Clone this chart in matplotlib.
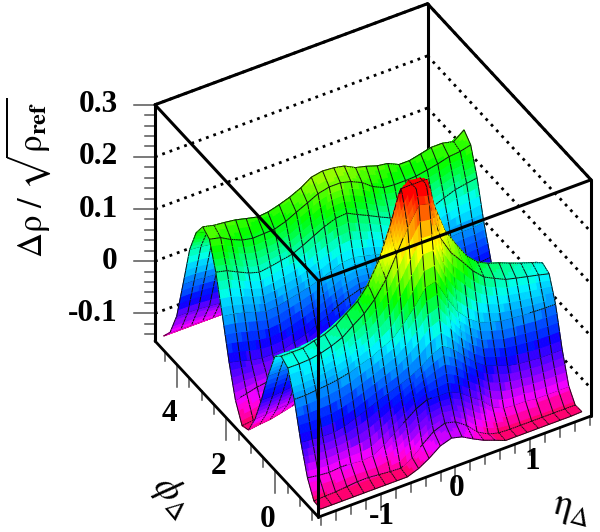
"""Pair correlation surface on eta/phi, drawn like a ROOT surf1 plot."""
import numpy as np
import matplotlib
matplotlib.use("Agg")
import matplotlib.pyplot as plt
from matplotlib.colors import LinearSegmentedColormap, BoundaryNorm
from mpl_toolkits.mplot3d import proj3d
from mpl_toolkits.mplot3d.art3d import Poly3DCollection

plt.rcParams["mathtext.fontset"] = "stix"
plt.rcParams["font.family"] = ["Liberation Serif", "DejaVu Serif"]

eta_bins = [-1.76, -1.61, -1.47, -1.32, -1.18, -1.03, -0.89, -0.74, -0.60, -0.45, -0.31, -0.16, -0.01,
            0.13, 0.28, 0.42, 0.57, 0.71, 0.86, 1.00, 1.15, 1.29, 1.44, 1.59, 1.73]
phi_bins = [-1.62, -1.35, -1.09, -0.82, -0.55, -0.29, -0.02, 0.24, 0.51, 0.78, 1.04, 1.31, 1.57,
            1.84, 2.10, 2.37, 2.64, 2.90, 3.17, 3.44, 3.70, 3.97, 4.23, 4.50, 4.76]

# one row per phi bin, one column per eta bin
rho = [
    [-.148,-.148,-.148,-.148,-.148,-.148,-.148,-.148,-.148,-.140,-.128,-.112,-.105,-.110,-.122,-.132,-.140,-.148,-.148,-.148,-.148,-.148,-.148,-.148,-.147],
    [-.146,-.145,-.144,-.142,-.140,-.140,-.142,-.144,-.145,-.132,-.115,-.098,-.090,-.095,-.110,-.130,-.142,-.147,-.148,-.148,-.148,-.148,-.148,-.148,-.148],
    [-.115,-.118,-.120,-.118,-.118,-.120,-.118,-.105,-.090,-.075,-.060,-.050,-.050,-.050,-.060,-.075,-.090,-.110,-.120,-.122,-.122,-.125,-.125,-.125,-.125],
    [-.060,-.062,-.064,-.064,-.060,-.052,-.044,-.035,-.028,-.020,-.012,.000,.015,.025,.010,-.010,-.030,-.044,-.052,-.060,-.064,-.066,-.068,-.068,-.068],
    [.008,.008,.010,.012,.015,.020,.028,.035,.045,.055,.075,.100,.130,.135,.095,.062,.040,.025,.018,.012,.010,.008,.006,.005,.005],
    [.055,.055,.056,.060,.066,.075,.090,.105,.125,.155,.195,.240,.275,.270,.195,.160,.135,.110,.090,.080,.070,.065,.060,.055,.050],
    [.064,.064,.064,.070,.075,.085,.100,.115,.140,.180,.235,.305,.345,.335,.245,.190,.155,.125,.105,.095,.088,.080,.072,.065,.057],
    [.050,.050,.050,.052,.056,.065,.075,.088,.105,.130,.165,.215,.270,.265,.180,.145,.125,.105,.090,.080,.070,.062,.056,.050,.045],
    [.000,.000,.000,.002,.006,.012,.020,.030,.045,.065,.085,.105,.130,.135,.105,.080,.060,.045,.032,.024,.016,.010,.004,.000,-.002],
    [-.060,-.060,-.058,-.056,-.052,-.048,-.040,-.032,-.020,-.008,.005,.020,.035,.035,.020,.005,-.010,-.020,-.030,-.038,-.044,-.050,-.054,-.056,-.058],
    [-.110,-.108,-.106,-.104,-.100,-.095,-.088,-.080,-.070,-.060,-.050,-.040,-.030,-.030,-.040,-.050,-.060,-.070,-.078,-.085,-.092,-.098,-.102,-.105,-.108],
    [-.145,-.142,-.140,-.135,-.130,-.125,-.118,-.110,-.100,-.092,-.084,-.076,-.070,-.070,-.076,-.084,-.092,-.100,-.108,-.115,-.122,-.128,-.133,-.137,-.140],
    [-.150,-.148,-.145,-.140,-.135,-.128,-.120,-.112,-.104,-.096,-.088,-.082,-.078,-.078,-.082,-.088,-.096,-.104,-.112,-.120,-.128,-.134,-.140,-.144,-.146],
    [-.115,-.110,-.105,-.102,-.100,-.098,-.095,-.090,-.085,-.078,-.070,-.062,-.055,-.055,-.062,-.070,-.078,-.085,-.090,-.095,-.098,-.100,-.100,-.100,-.098],
    [-.055,-.060,-.066,-.070,-.070,-.068,-.062,-.055,-.045,-.035,-.025,-.015,-.008,-.008,-.015,-.025,-.032,-.040,-.045,-.050,-.050,-.048,-.045,-.042,-.040],
    [.020,.017,.012,.005,-.002,.000,.005,.010,.015,.022,.030,.038,.040,.035,.030,.022,.012,.005,.000,.000,.005,.010,.012,.012,.015],
    [.090,.085,.075,.065,.059,.062,.066,.070,.079,.090,.100,.108,.110,.100,.090,.080,.070,.062,.058,.058,.062,.070,.078,.082,.085],
    [.140,.135,.124,.115,.111,.112,.113,.120,.130,.140,.150,.155,.155,.150,.140,.125,.115,.113,.113,.114,.118,.122,.128,.130,.135],
    [.150,.145,.143,.140,.135,.130,.132,.138,.145,.155,.168,.172,.170,.166,.155,.150,.143,.140,.130,.130,.135,.140,.140,.135,.150],
    [.125,.120,.118,.115,.110,.105,.105,.110,.118,.125,.135,.142,.140,.135,.125,.120,.115,.110,.105,.105,.110,.115,.115,.115,.120],
    [.080,.078,.075,.072,.068,.065,.066,.070,.075,.082,.090,.095,.095,.090,.082,.075,.070,.066,.064,.064,.066,.070,.072,.072,.075],
    [.000,.000,-.002,-.004,-.006,-.008,-.006,-.002,.002,.008,.014,.018,.018,.014,.008,.002,-.002,-.006,-.008,-.008,-.006,-.004,-.002,-.002,.000],
    [-.075,-.075,-.076,-.078,-.080,-.080,-.078,-.075,-.070,-.066,-.062,-.060,-.060,-.062,-.066,-.070,-.074,-.078,-.080,-.080,-.078,-.078,-.076,-.076,-.075],
    [-.120,-.120,-.120,-.120,-.121,-.121,-.120,-.120,-.118,-.116,-.115,-.114,-.114,-.115,-.116,-.118,-.120,-.120,-.121,-.121,-.120,-.120,-.120,-.120,-.120],
    [-.140,-.140,-.140,-.140,-.140,-.140,-.140,-.140,-.139,-.138,-.137,-.136,-.136,-.137,-.138,-.139,-.140,-.140,-.140,-.140,-.140,-.140,-.140,-.140,-.140],
]

z_major = [-0.1, 0, 0.1, 0.2, 0.3]
z_labels = ["-0.1", "0", "0.1", "0.2", "0.3"]
z_minor = [-0.14, -0.12, -0.08, -0.06, -0.04, -0.02, 0.02, 0.04, 0.06, 0.08, 0.12, 0.14, 0.16, 0.18,
           0.22, 0.24, 0.26, 0.28]
eta_major = [-1, 0, 1]
eta_minor = [-1.8, -1.6, -1.4, -1.2, -0.8, -0.6, -0.4, -0.2, 0.2, 0.4, 0.6, 0.8, 1.2, 1.4, 1.6, 1.8]
phi_major = [0, 2, 4]
phi_minor = [-1.5, -1, -0.5, 0.5, 1, 1.5, 2.5, 3, 3.5, 4.5]

XMIN, XMAX = -1.83, 1.81
YMIN, YMAX = -1.75, 4.90
ZMIN, ZMAX = -0.153, 0.30
ELEV, AZIM = 39.2, -120.4
BOX = (313, 320, 302)
SUB = 5
INK = "#000000"
TICK = "#555555"

rainbow = LinearSegmentedColormap.from_list("root_rainbow", [
    (0.000, "#ff0070"), (0.062, "#ff00ff"), (0.139, "#8000ff"), (0.227, "#0000ff"),
    (0.338, "#0082ff"), (0.448, "#00ffff"), (0.602, "#00ff00"), (0.779, "#ffff00"),
    (0.890, "#ff9000"), (1.000, "#ff0000")])
bands = BoundaryNorm(np.linspace(ZMIN, ZMAX, 43), 256)

fig = plt.figure(figsize=(6.0, 5.32), dpi=100)
ax = fig.add_axes([0.05, 0.02, 0.9 * 5.32 / 6.0, 0.9], projection="3d", proj_type="ortho")
ax.computed_zorder = False
ax.view_init(elev=ELEV, azim=AZIM)
ax.set_box_aspect(BOX)
ax.set_xlim(XMIN, XMAX)
ax.set_ylim(YMIN, YMAX)
ax.set_zlim(ZMIN, ZMAX)
ax.set_axis_off()


def corners_px():
    fig.canvas.draw()
    xs = [XMIN, XMAX, XMIN]
    ys = [YMAX, YMIN, YMIN]
    zs = [ZMIN, ZMIN, ZMIN]
    px, py, _ = proj3d.proj_transform(np.array(xs), np.array(ys), np.array(zs), ax.get_proj())
    return ax.transData.transform(np.column_stack([px, py]))


# scale and shift the axes so the box lands where it sits in the picture
left_px = np.array([155.0, 532 - 341.0])
right_px = np.array([591.0, 532 - 415.0])
pts = corners_px()
ratio = (right_px[0] - left_px[0]) / (pts[1][0] - pts[0][0])
pos = ax.get_position()
side_in = pos.width * 6.0 * ratio
ax.set_position([pos.x0, pos.y0, side_in / 6.0, side_in / 5.32])
pts = corners_px()
shift = left_px - pts[0]
pos = ax.get_position()
ax.set_position([pos.x0 + shift[0] / 600, pos.y0 + shift[1] / 532, pos.width, pos.height])
ax.apply_aspect()

# cells are split only so the colour bands can follow the height
Z = np.array(rho)
u = np.linspace(0, 24, 24 * SUB + 1)
iu = np.minimum(u.astype(int), 23)
fu = u - iu
fx = np.interp(u, np.arange(25), eta_bins)
fy = np.interp(u, np.arange(25), phi_bins)
FX, FY = np.meshgrid(fx, fy)
wu, wv = np.meshgrid(fu, fu)
IU, IV = np.meshgrid(iu, iu)
FZ = (Z[IV, IU] * (1 - wu) * (1 - wv) + Z[IV, IU + 1] * wu * (1 - wv)
      + Z[IV + 1, IU] * (1 - wu) * wv + Z[IV + 1, IU + 1] * wu * wv)
FZ = np.clip(FZ, ZMIN, ZMAX)

quads = np.stack([
    np.stack([FX[:-1, :-1], FY[:-1, :-1], FZ[:-1, :-1]], -1),
    np.stack([FX[:-1, 1:], FY[:-1, 1:], FZ[:-1, 1:]], -1),
    np.stack([FX[1:, 1:], FY[1:, 1:], FZ[1:, 1:]], -1),
    np.stack([FX[1:, :-1], FY[1:, :-1], FZ[1:, :-1]], -1)], axis=2).reshape(-1, 4, 3)
quad_colors = rainbow(bands(quads[:, :, 2].mean(axis=1)))

# mesh lines go into the same collection so they are depth sorted with the faces
a = np.radians(AZIM)
e = np.radians(ELEV)
toward_cam = np.array([np.cos(e) * np.cos(a) * (XMAX - XMIN) / BOX[0],
                       np.cos(e) * np.sin(a) * (YMAX - YMIN) / BOX[1],
                       np.sin(e) * (ZMAX - ZMIN) / BOX[2]]) * 1.5
P = np.stack([FX, FY, FZ], -1) + toward_cam
segs = []
for k in range(0, P.shape[0], SUB):
    for m in range(P.shape[1] - 1):
        segs.append([P[k, m], P[k, m + 1], P[k, m + 1], P[k, m]])
        segs.append([P[m, k], P[m + 1, k], P[m + 1, k], P[m, k]])
segs = np.array(segs)
line_colors = np.tile(matplotlib.colors.to_rgba("#101010"), (len(segs), 1))

surface = Poly3DCollection(np.concatenate([quads, segs]),
                           facecolors=np.concatenate([quad_colors, line_colors]),
                           edgecolors=np.concatenate([quad_colors, line_colors]),
                           linewidths=0.7, zorder=2)
ax.add_collection3d(surface, autolim=False)


def edge(p, q, lw=2.2, zorder=3):
    ax.plot([p[0], q[0]], [p[1], q[1]], [p[2], q[2]], color=INK, lw=lw, zorder=zorder,
            solid_capstyle="round", clip_on=False)


# back walls
for z in z_major:
    ax.plot([XMIN, XMAX], [YMAX, YMAX], [z, z], color=INK, lw=2.0, ls=(0, (1, 1.8)), zorder=1)
    ax.plot([XMAX, XMAX], [YMAX, YMIN], [z, z], color=INK, lw=2.0, ls=(0, (1, 1.8)), zorder=1)
edge((XMIN, YMAX, ZMAX), (XMAX, YMAX, ZMAX), zorder=1)
edge((XMAX, YMAX, ZMAX), (XMAX, YMIN, ZMAX), zorder=1)
edge((XMAX, YMAX, ZMIN), (XMAX, YMAX, ZMAX), zorder=1)

# front of the box, over the surface
edge((XMIN, YMIN, ZMIN), (XMIN, YMIN, ZMAX))
edge((XMIN, YMAX, ZMAX), (XMIN, YMIN, ZMAX))
edge((XMIN, YMIN, ZMAX), (XMAX, YMIN, ZMAX))
edge((XMIN, YMAX, ZMIN), (XMIN, YMAX, ZMAX))
edge((XMAX, YMIN, ZMIN), (XMAX, YMIN, ZMAX))
edge((XMIN, YMAX, ZMIN), (XMIN, YMIN, ZMIN), lw=2.0)
edge((XMIN, YMIN, ZMIN), (XMAX, YMIN, ZMIN), lw=2.0)

# data offsets for one screen pixel: left along (dx, dy), down along dz
dz_px = (ZMAX - ZMIN) / (BOX[2] * np.cos(e))
dx_px = -np.sin(a) * (XMAX - XMIN) / BOX[0]
dy_px = np.cos(a) * (YMAX - YMIN) / BOX[1]


def tick_label(x, y, z, txt, ha="center"):
    px, py, _ = proj3d.proj_transform(x, y, z, ax.get_proj())
    sx, sy = ax.transData.transform((px, py))
    fig.text(sx / 600, sy / 532, txt, ha=ha, va="center", fontsize=22.5, fontweight="bold")


def tick_z(z, length):
    ax.plot([XMIN, XMIN - length * dx_px], [YMAX, YMAX - length * dy_px], [z, z], color=TICK, lw=1.1,
            zorder=1, clip_on=False)


for z in z_minor:
    tick_z(z, 10)
for z, txt in zip(z_major, z_labels):
    tick_z(z, 21)
    tick_label(XMIN - 37 * dx_px, YMAX - 37 * dy_px, z, txt, ha="right")

for x in eta_minor:
    ax.plot([x, x], [YMIN, YMIN], [ZMIN, ZMIN - 9 * dz_px], color=TICK, lw=1.1, zorder=1, clip_on=False)
for x in eta_major:
    ax.plot([x, x], [YMIN, YMIN], [ZMIN, ZMIN - 16 * dz_px], color=TICK, lw=1.1, zorder=1, clip_on=False)
for y in phi_minor:
    ax.plot([XMIN, XMIN], [y, y], [ZMIN, ZMIN - 9 * dz_px], color=TICK, lw=1.1, zorder=1, clip_on=False)
for y in phi_major:
    ax.plot([XMIN, XMIN], [y, y], [ZMIN, ZMIN - 22 * dz_px], color=TICK, lw=1.1, zorder=1, clip_on=False)

for x in eta_major:
    tick_label(x + 2 * dx_px, YMIN, ZMIN - 23 * dz_px, str(x))
for y in phi_major:
    tick_label(XMIN - 8 * dx_px, y - 8 * dy_px, ZMIN - 48 * dz_px, str(y))

fig.text(28 / 600, 1 - 178 / 532, r"$\Delta\mathrm{\rho}\ /\ \sqrt{\mathrm{\rho}_{\mathbf{ref}}}$", rotation=90,
         ha="center", va="center", fontsize=25)
fig.text(572 / 600, 1 - 510 / 532, r"$\mathrm{\eta}_{\Delta}$", rotation=-15, ha="center", va="center", fontsize=27)
fig.text(172 / 600, 1 - 496 / 532, r"$\phi_{\Delta}$", rotation=-50, ha="center", va="center", fontsize=27)

fig.savefig("out.png", dpi=100, facecolor="white")
